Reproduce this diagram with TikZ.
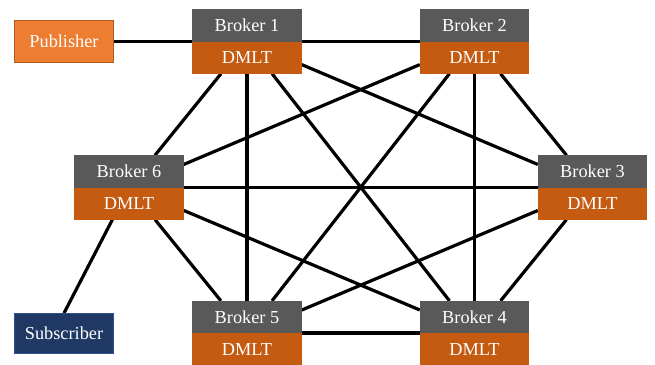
\documentclass[tikz,border=0pt]{standalone}
\usepackage{fontspec}
\setmainfont{Liberation Serif}
\usetikzlibrary{calc}
\pgfdeclarelayer{background}
\pgfsetlayers{background,main}
\definecolor{brokergray}{HTML}{595959}
\definecolor{dmltorange}{HTML}{C55A11}
\definecolor{pubfill}{HTML}{ED7D31}
\definecolor{pubedge}{HTML}{AE5A21}
\definecolor{subfill}{HTML}{203864}
\definecolor{subedge}{HTML}{2F528F}

% one broker: grey name bar above an orange DMLT bar
\newcommand\brokerbox[3]{%
  \node[broker] (#1) at (#2) {};
  \fill[brokergray] (#1.north west) rectangle (#1.east);
  \fill[dmltorange] (#1.west) rectangle (#1.south east);
  \node[boxtext] (#1-name) at ($(#1.north)!0.5!(#1.center)$) {Broker #3};
  \node[boxtext] (#1-dmlt) at ($(#1.south)!0.5!(#1.center)$) {DMLT};
}

\begin{document}
\begin{tikzpicture}[x=1pt,y=-1pt,
  broker/.style={rectangle, minimum width=109pt, minimum height=64pt, inner sep=0pt},
  boxtext/.style={text=white, font=\fontsize{18.3pt}{20pt}\selectfont, inner sep=0pt},
  client/.style={rectangle, minimum width=99pt, inner sep=0pt, line width=0.8pt,
    text=white, font=\fontsize{18.3pt}{20pt}\selectfont},
  link/.style={line width=3.2pt, black}]
\useasboundingbox (0,0) rectangle (655,364);

\brokerbox{b1}{247,41.5}{1}
\brokerbox{b2}{474.5,41.5}{2}
\brokerbox{b6}{129,187.5}{6}
\brokerbox{b3}{592.5,187.5}{3}
\brokerbox{b5}{247,333}{5}
\brokerbox{b4}{474.5,333}{4}

\node[client, fill=pubfill, draw=pubedge, minimum height=42pt] (pub) at (64,41.5) {Publisher};
\node[client, fill=subfill, draw=subedge, minimum height=40pt] (sub) at (64,333.5) {Subscriber};

\begin{pgfonlayer}{background}
  % full mesh between the six brokers
  \draw[link] (b1) -- (b2);
  \draw[link] (b1) -- (b3);
  \draw[link] (b1) -- (b4);
  \draw[link] (b1) -- (b5);
  \draw[link] (b1) -- (b6);
  \draw[link] (b2) -- (b3);
  \draw[link] (b2) -- (b4);
  \draw[link] (b2) -- (b5);
  \draw[link] (b2) -- (b6);
  \draw[link] (b3) -- (b4);
  \draw[link] (b3) -- (b5);
  \draw[link] (b3) -- (b6);
  \draw[link] (b4) -- (b5);
  \draw[link] (b4) -- (b6);
  \draw[link] (b5) -- (b6);
  % clients
  \draw[link] (pub.east |- b1) -- (b1);
  \draw[link] (b6) -- (sub.north);
\end{pgfonlayer}
\end{tikzpicture}
\end{document}
